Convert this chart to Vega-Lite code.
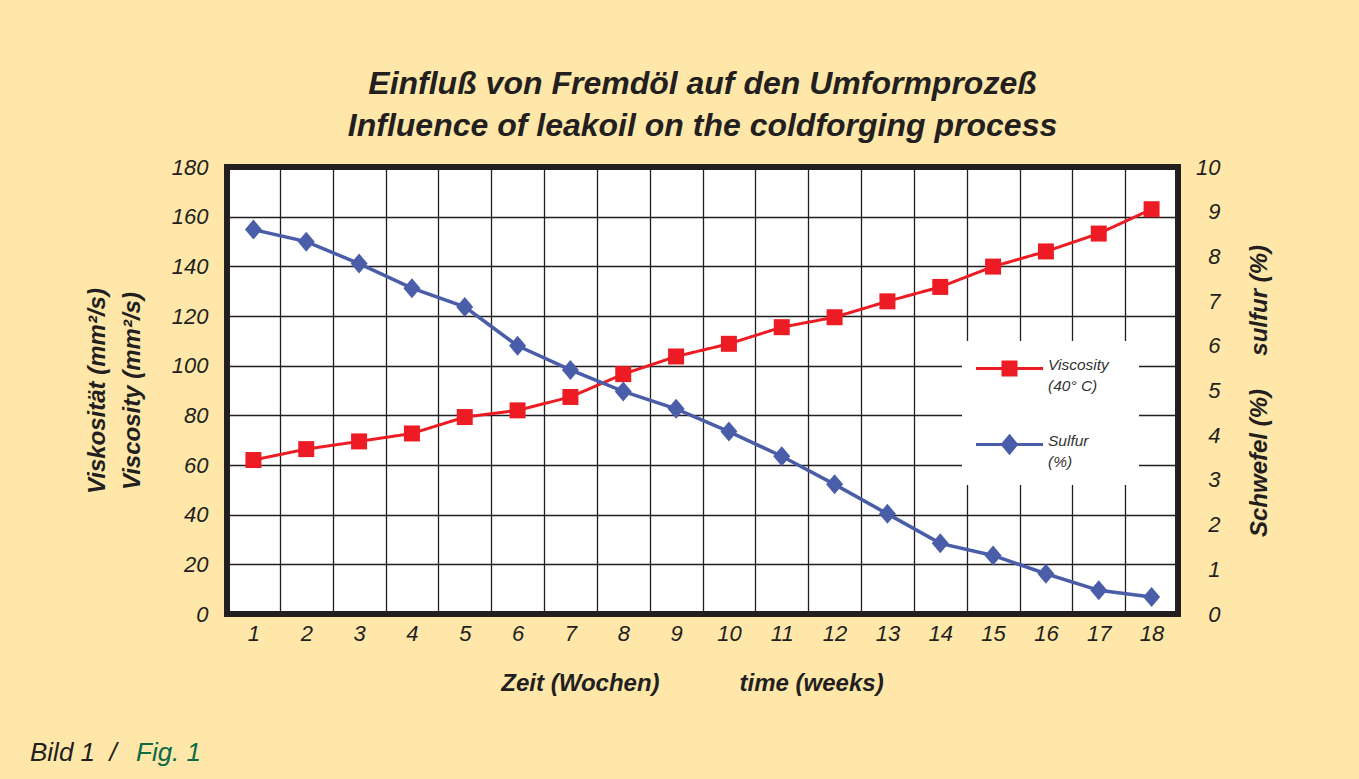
{
  "$schema": "https://vega.github.io/schema/vega-lite/v6.json",
  "width": 951,
  "height": 447,
  "autosize": {"type": "none"},
  "padding": {"left": 227, "top": 167, "right": 181, "bottom": 165},
  "background": "#FEE7A8",
  "title": {
    "text": ["Einfluß von Fremdöl auf den Umformprozeß", "Influence of leakoil on the coldforging process"],
    "font": "Liberation Sans",
    "fontSize": 32,
    "fontWeight": "bold",
    "fontStyle": "italic",
    "color": "#231F20",
    "lineHeight": 42,
    "anchor": "middle",
    "offset": 13
  },
  "data": {
    "values": [
      {"week": 1, "viscosity": 62.0, "sulfur": 8.60},
      {"week": 2, "viscosity": 66.4, "sulfur": 8.33},
      {"week": 3, "viscosity": 69.5, "sulfur": 7.84},
      {"week": 4, "viscosity": 72.7, "sulfur": 7.29},
      {"week": 5, "viscosity": 79.3, "sulfur": 6.87},
      {"week": 6, "viscosity": 82.0, "sulfur": 6.00},
      {"week": 7, "viscosity": 87.4, "sulfur": 5.46},
      {"week": 8, "viscosity": 96.6, "sulfur": 4.98},
      {"week": 9, "viscosity": 103.7, "sulfur": 4.59},
      {"week": 10, "viscosity": 108.8, "sulfur": 4.08},
      {"week": 11, "viscosity": 115.5, "sulfur": 3.53},
      {"week": 12, "viscosity": 119.5, "sulfur": 2.90},
      {"week": 13, "viscosity": 125.9, "sulfur": 2.24},
      {"week": 14, "viscosity": 131.7, "sulfur": 1.58},
      {"week": 15, "viscosity": 139.9, "sulfur": 1.31},
      {"week": 16, "viscosity": 146.0, "sulfur": 0.90},
      {"week": 17, "viscosity": 153.2, "sulfur": 0.53},
      {"week": 18, "viscosity": 163.0, "sulfur": 0.38}
    ]
  },
  "encoding": {
    "x": {
      "field": "week",
      "type": "ordinal",
      "scale": {"type": "band", "paddingInner": 0, "paddingOuter": 0},
      "axis": {
        "title": "Zeit (Wochen)\u00a0\u00a0\u00a0\u00a0\u00a0\u00a0\u00a0\u00a0\u00a0\u00a0\u00a0\u00a0time (weeks)",
        "titleX": 465,
        "labelAngle": 0,
        "labelFont": "Liberation Sans",
        "labelFontSize": 22,
        "labelFontStyle": "italic",
        "labelColor": "#231F20",
        "labelPadding": 9,
        "ticks": false,
        "tickSize": 0,
        "domain": false,
        "grid": true,
        "tickBand": "extent",
        "gridColor": "#231F20",
        "gridWidth": 1.3,
        "titleFont": "Liberation Sans",
        "titleFontSize": 24,
        "titleFontWeight": "bold",
        "titleFontStyle": "italic",
        "titleColor": "#231F20",
        "titlePadding": 27
      }
    }
  },
  "layer": [
    {
      "encoding": {
        "y": {
          "field": "viscosity",
          "type": "quantitative",
          "scale": {"domain": [0, 180], "nice": false},
          "axis": {
            "title": ["Viskosität (mm²/s)", "Viscosity (mm²/s)"],
            "values": [0, 20, 40, 60, 80, 100, 120, 140, 160, 180],
            "labelFont": "Liberation Sans",
            "labelFontSize": 22,
            "labelFontStyle": "italic",
            "labelColor": "#231F20",
            "labelPadding": 19,
            "ticks": false,
            "tickSize": 0,
            "domain": false,
            "grid": true,
            "gridColor": "#231F20",
            "gridWidth": 1.3,
            "titleFont": "Liberation Sans",
            "titleFontSize": 24,
            "titleFontWeight": "bold",
            "titleFontStyle": "italic",
            "titleColor": "#231F20",
            "titleLineHeight": 35,
            "titlePadding": 27
          }
        }
      },
      "layer": [
        {
          "mark": {"type": "line", "strokeWidth": 3},
          "encoding": {
            "color": {
              "datum": "Viscosity",
              "scale": {"domain": ["Viscosity", "Sulfur"], "range": ["#ED1C24", "#4A5DA9"]},
              "legend": {
                "title": null,
                "orient": "none",
                "legendX": 735,
                "legendY": 174,
                "fillColor": "white",
                "padding": 14,
                "symbolSize": 576,
                "symbolStrokeWidth": 3,
                "rowPadding": 35,
                "labelOffset": 45,
                "labelFont": "Liberation Sans",
                "labelFontStyle": "italic",
                "labelFontSize": 15.5,
                "labelColor": "#333333",
                "labelLimit": 0,
                "labelBaseline": "middle",
                "labelExpr": "datum.value == 'Viscosity' ? ['Viscosity\u00a0\u2800', '(40° C)'] : ['Sulfur', '(%)']",
                "encode": {
                  "symbols": {
                    "update": {
                      "shape": {"signal": "datum.value == 'Viscosity' ? 'M-1.125,0H4.458M1.125,-0.542H2.208V0.542H1.125Z' : 'M-1.125,0H4.458M1.667,-0.708L2.25,0L1.667,0.708L1.083,0Z'"},
                      "fill": {"signal": "scale('color', datum.value)"},
                      "stroke": {"signal": "scale('color', datum.value)"},
                      "opacity": {"value": 1},
                      "fillOpacity": {"value": 1}
                    }
                  },
                  "labels": {
                    "update": {
                      "dy": {"value": -3.5},
                      "lineHeight": {"value": 21}
                    }
                  }
                }
              }
            },
            "strokeDash": {
              "datum": "Fig. 1",
              "scale": {"range": [[1, 0]]},
              "legend": {
                "orient": "none",
                "legendX": -197,
                "legendY": 573,
                "title": "Bild 1\u00a0\u00a0/",
                "titleOrient": "left",
                "titleFont": "Liberation Sans",
                "titleFontSize": 26,
                "titleFontWeight": "normal",
                "titleFontStyle": "italic",
                "titleColor": "#231F20",
                "titlePadding": 0,
                "labelFont": "Liberation Sans",
                "labelFontSize": 26,
                "labelFontStyle": "italic",
                "labelColor": "#0B6B45",
                "labelOffset": -7,
                "symbolOpacity": 0,
                "symbolSize": 0,
                "symbolStrokeWidth": 0,
                "padding": 0
              }
            }
          }
        },
        {
          "mark": {"type": "point", "shape": "square", "filled": true, "size": 256, "color": "#ED1C24", "opacity": 1}
        }
      ]
    },
    {
      "encoding": {
        "y": {
          "field": "sulfur",
          "type": "quantitative",
          "scale": {"domain": [0, 10], "nice": false},
          "axis": {
            "orient": "right",
            "title": "Schwefel (%)\u00a0\u00a0\u00a0\u00a0\u00a0sulfur (%)",
            "values": [0, 1, 2, 3, 4, 5, 6, 7, 8, 9, 10],
            "labelFont": "Liberation Sans",
            "labelFontSize": 22,
            "labelFontStyle": "italic",
            "labelColor": "#231F20",
            "labelAlign": "right",
            "labelPadding": 42,
            "ticks": false,
            "tickSize": 0,
            "domain": false,
            "grid": false,
            "titleFont": "Liberation Sans",
            "titleFontSize": 24,
            "titleFontWeight": "bold",
            "titleFontStyle": "italic",
            "titleColor": "#231F20",
            "titleAngle": -90,
            "titleBaseline": "top",
            "titlePadding": 27
          }
        }
      },
      "layer": [
        {
          "mark": {"type": "line", "strokeWidth": 3.5},
          "encoding": {
            "color": {"datum": "Sulfur"}
          }
        },
        {
          "mark": {"type": "point", "shape": "M0,-1L0.85,0L0,1L-0.85,0Z", "filled": true, "size": 400, "color": "#4A5DA9", "opacity": 1}
        }
      ]
    }
  ],
  "resolve": {"scale": {"y": "independent"}},
  "config": {
    "font": "Liberation Sans",
    "view": {"stroke": "#231F20", "strokeWidth": 6, "fill": "white"}
  }
}
